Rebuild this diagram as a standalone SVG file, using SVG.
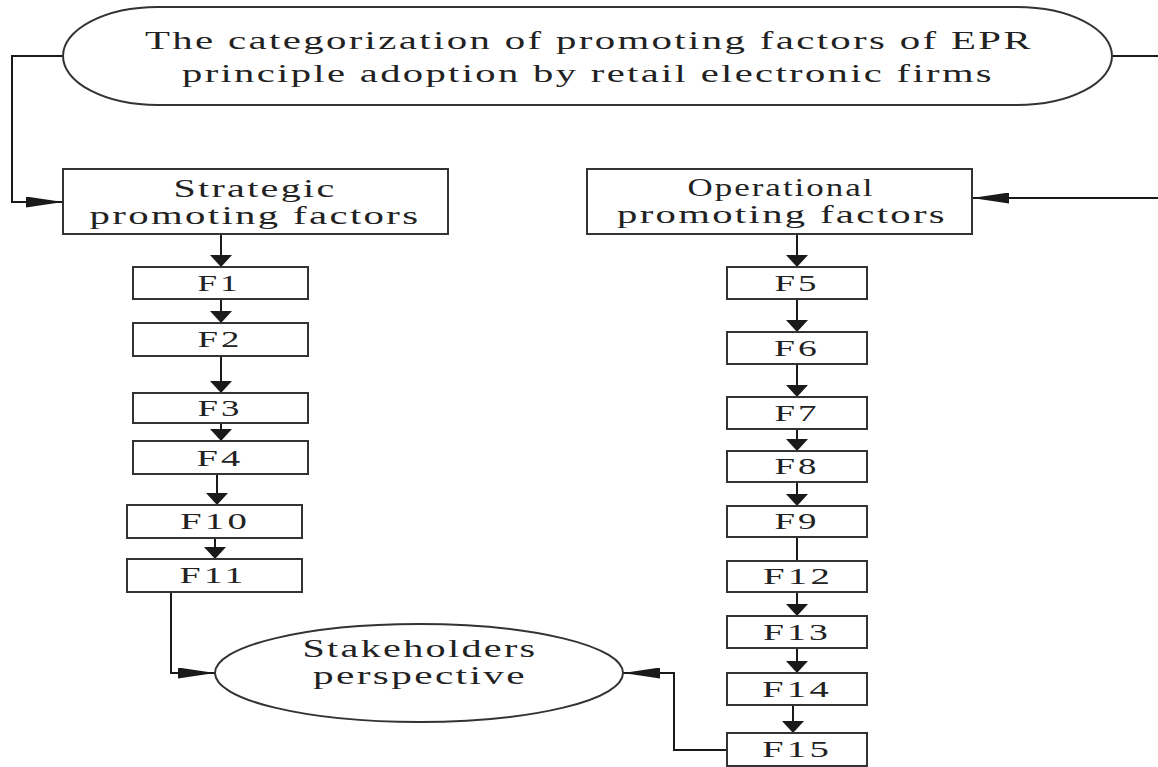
<svg xmlns="http://www.w3.org/2000/svg" width="1158" height="767" viewBox="0 0 1158 767">
<style>
.bx{fill:#fff;stroke:#333;stroke-width:2}
.t{font-family:"Liberation Serif","Times New Roman",serif;font-size:26px;fill:#222;text-anchor:middle;letter-spacing:1.5px}
.f{font-family:"Liberation Serif","Times New Roman",serif;font-size:24px;fill:#222;text-anchor:middle;letter-spacing:2px}
.ln{fill:none;stroke:#1a1a1a;stroke-width:2}
</style>
<defs>
<marker id="arrV" markerUnits="userSpaceOnUse" markerWidth="12" markerHeight="22" viewBox="0 0 12 22" refX="12" refY="11" orient="auto"><path d="M0,0 L12,11 L0,22 Z" fill="#1a1a1a"/></marker>
<marker id="arrH" markerUnits="userSpaceOnUse" markerWidth="37" markerHeight="11" viewBox="0 0 37 11" refX="37" refY="5.5" orient="auto"><path d="M0,0 L37,5.5 L0,11 Z" fill="#1a1a1a"/></marker>
</defs>
<g id="connectors">
<path class="ln" d="M63,56 H12 V202 H63" marker-end="url(#arrH)"/>
<path class="ln" d="M1112,56 H1162 V198 H972" marker-end="url(#arrH)"/>
<path class="ln" d="M221,235 V267" marker-end="url(#arrV)"/>
<path class="ln" d="M221,299 V323" marker-end="url(#arrV)"/>
<path class="ln" d="M221,356 V393" marker-end="url(#arrV)"/>
<path class="ln" d="M221,423 V441" marker-end="url(#arrV)"/>
<path class="ln" d="M217,474 V505" marker-end="url(#arrV)"/>
<path class="ln" d="M215,538 V559" marker-end="url(#arrV)"/>
<path class="ln" d="M171,592 V673 H215" marker-end="url(#arrH)"/>
<path class="ln" d="M797,234 V267" marker-end="url(#arrV)"/>
<path class="ln" d="M797,299 V332" marker-end="url(#arrV)"/>
<path class="ln" d="M797,364 V397" marker-end="url(#arrV)"/>
<path class="ln" d="M797,429 V451" marker-end="url(#arrV)"/>
<path class="ln" d="M797,482 V506" marker-end="url(#arrV)"/>
<path class="ln" d="M797,537 V561"/>
<path class="ln" d="M797,592 V616" marker-end="url(#arrV)"/>
<path class="ln" d="M797,648 V673" marker-end="url(#arrV)"/>
<path class="ln" d="M793,705 V733" marker-end="url(#arrV)"/>
<path class="ln" d="M727,750 H674 V673 H623" marker-end="url(#arrH)"/>
</g>
<g id="title">
<path class="bx" d="M158,7 H1017 A95,49 0 0 1 1017,105 H158 A95,49 0 0 1 158,7 Z"/>
<text class="t" x="589" y="49" textLength="888" lengthAdjust="spacingAndGlyphs">The categorization of promoting factors of EPR</text>
<text class="t" x="588" y="82" textLength="812" lengthAdjust="spacingAndGlyphs">principle adoption by retail electronic firms</text>
</g>
<g id="strategic">
<rect class="bx" x="63" y="169" width="385" height="65"/>
<text class="t" x="255" y="197" textLength="163" lengthAdjust="spacingAndGlyphs">Strategic</text>
<text class="t" x="255" y="224" textLength="331" lengthAdjust="spacingAndGlyphs">promoting factors</text>
</g>
<g id="operational">
<rect class="bx" x="587" y="169" width="385" height="65"/>
<text class="t" x="781" y="196" textLength="187" lengthAdjust="spacingAndGlyphs">Operational</text>
<text class="t" x="782" y="223" textLength="330" lengthAdjust="spacingAndGlyphs">promoting factors</text>
</g>
<g id="F1"><rect class="bx" x="133" y="267" width="175" height="32"/><text class="f" x="219" y="291" textLength="43" lengthAdjust="spacingAndGlyphs">F1</text></g>
<g id="F2"><rect class="bx" x="133" y="323" width="175" height="33"/><text class="f" x="220" y="347" textLength="45" lengthAdjust="spacingAndGlyphs">F2</text></g>
<g id="F3"><rect class="bx" x="133" y="393" width="175" height="30"/><text class="f" x="220" y="416" textLength="45" lengthAdjust="spacingAndGlyphs">F3</text></g>
<g id="F4"><rect class="bx" x="133" y="441" width="175" height="33"/><text class="f" x="220" y="466" textLength="47" lengthAdjust="spacingAndGlyphs">F4</text></g>
<g id="F10"><rect class="bx" x="127" y="505" width="175" height="33"/><text class="f" x="215" y="529" textLength="70" lengthAdjust="spacingAndGlyphs">F10</text></g>
<g id="F11"><rect class="bx" x="127" y="559" width="175" height="33"/><text class="f" x="213" y="583" textLength="67" lengthAdjust="spacingAndGlyphs">F11</text></g>
<g id="F5"><rect class="bx" x="727" y="267" width="140" height="32"/><text class="f" x="797" y="291" textLength="45" lengthAdjust="spacingAndGlyphs">F5</text></g>
<g id="F6"><rect class="bx" x="727" y="332" width="140" height="32"/><text class="f" x="797" y="356" textLength="46" lengthAdjust="spacingAndGlyphs">F6</text></g>
<g id="F7"><rect class="bx" x="727" y="397" width="140" height="32"/><text class="f" x="797" y="421" textLength="45" lengthAdjust="spacingAndGlyphs">F7</text></g>
<g id="F8"><rect class="bx" x="727" y="451" width="140" height="31"/><text class="f" x="797" y="474" textLength="45" lengthAdjust="spacingAndGlyphs">F8</text></g>
<g id="F9"><rect class="bx" x="727" y="506" width="140" height="31"/><text class="f" x="797" y="529" textLength="45" lengthAdjust="spacingAndGlyphs">F9</text></g>
<g id="F12"><rect class="bx" x="727" y="561" width="140" height="31"/><text class="f" x="798" y="584" textLength="70" lengthAdjust="spacingAndGlyphs">F12</text></g>
<g id="F13"><rect class="bx" x="727" y="616" width="140" height="32"/><text class="f" x="797" y="640" textLength="68" lengthAdjust="spacingAndGlyphs">F13</text></g>
<g id="F14"><rect class="bx" x="727" y="673" width="140" height="32"/><text class="f" x="797" y="697" textLength="70" lengthAdjust="spacingAndGlyphs">F14</text></g>
<g id="F15"><rect class="bx" x="727" y="733" width="140" height="33"/><text class="f" x="797" y="757" textLength="70" lengthAdjust="spacingAndGlyphs">F15</text></g>
<g id="stakeholders">
<ellipse class="bx" cx="419" cy="673" rx="204" ry="49"/>
<text class="t" x="420" y="657" textLength="235" lengthAdjust="spacingAndGlyphs">Stakeholders</text>
<text class="t" x="420" y="684" textLength="214" lengthAdjust="spacingAndGlyphs">perspective</text>
</g>
</svg>
